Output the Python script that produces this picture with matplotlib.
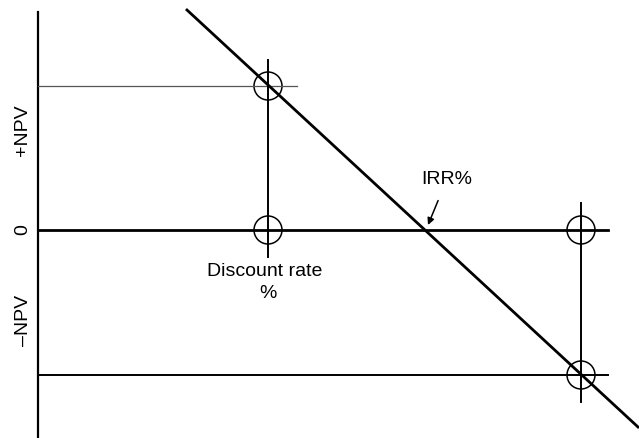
import matplotlib
matplotlib.use("Agg")
import matplotlib.pyplot as plt
from matplotlib.patches import Circle

plt.rcParams['font.family'] = ['Liberation Sans', 'DejaVu Sans']

# data (discount rate on x, NPV on y, arbitrary units)
rates = [230, 543]              # two trial discount rates
npv_at_rates = [144, -145]      # NPV found at each rate
npv_line_x = [149, 600]         # NPV profile ends
npv_line_y = [220, -197]
irr = 386                       # where NPV = 0
axis_labels = ["+NPV", "0", "\u2013NPV"]
axis_label_y = [100, 0, -90]

fig = plt.figure(figsize=(6.39, 4.38), dpi=100)
ax = fig.add_axes([0, 0, 1, 1])
ax.set_xlim(-38, 601)
ax.set_ylim(-208, 230)
ax.axis('off')

# y axis
ax.plot([0, 0], [218, -207], color='black', lw=1.6)
# zero line
ax.plot([0, 570], [0, 0], color='black', lw=2.0)
# horizontal guide lines
ax.plot([0, 259], [npv_at_rates[0]] * 2, color='#555555', lw=0.9)
ax.plot([0, 570], [npv_at_rates[1]] * 2, color='black', lw=1.4)

# vertical guides at each rate
ax.plot([rates[0]] * 2, [170, -27], color='black', lw=1.4)
ax.plot([rates[1]] * 2, [27, -172], color='black', lw=1.4)

# NPV profile
ax.plot(npv_line_x, npv_line_y, color='black', lw=2.0)

# circles
for r, v in zip(rates, npv_at_rates):
    ax.add_patch(Circle((r, v), 14, fill=False, ec='black', lw=1.1))
    ax.add_patch(Circle((r, 0), 14, fill=False, ec='black', lw=1.1))

# labels
for t, y in zip(axis_labels, axis_label_y):
    ax.text(-15, y, t, rotation=90, ha='center', va='center', fontsize=14)

ax.text(227, -41, "Discount rate", ha='center', va='center', fontsize=14)
ax.text(230, -64, "%", ha='center', va='center', fontsize=14)

ax.annotate("IRR%", xy=(irr + 4, 5), xytext=(409, 51),
            ha='center', va='center', fontsize=14,
            arrowprops=dict(arrowstyle='-|>', color='black', lw=1.1,
                            mutation_scale=10, shrinkA=8, shrinkB=0))

fig.savefig("out.png", dpi=100, facecolor='white')
